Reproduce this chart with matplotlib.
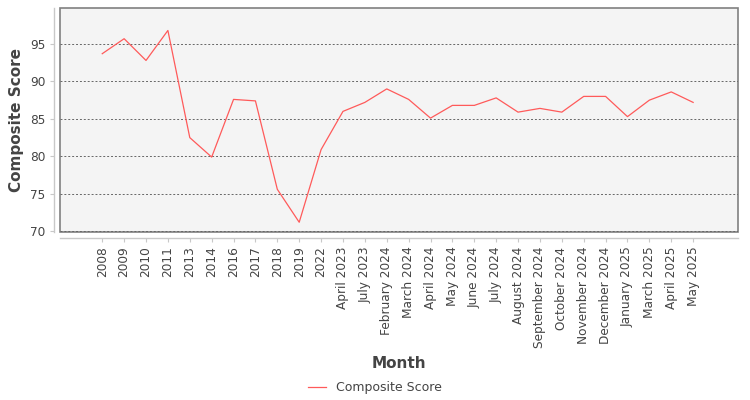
import matplotlib
matplotlib.use("Agg")
import matplotlib.pyplot as plt

# data
months = [
    "2008", "2009", "2010", "2011", "2013", "2014", "2016", "2017", "2018",
    "2019", "2022", "April 2023", "July 2023", "February 2024", "March 2024",
    "April 2024", "May 2024", "June 2024", "July 2024", "August 2024",
    "September 2024", "October 2024", "November 2024", "December 2024",
    "January 2025", "March 2025", "April 2025", "May 2025",
]
composite_score = [
    93.7, 95.7, 92.8, 96.8, 82.5, 79.9, 87.6, 87.4, 75.6,
    71.2, 80.9, 86.0, 87.2, 89.0, 87.6,
    85.1, 86.8, 86.8, 87.8, 85.9,
    86.4, 85.9, 88.0, 88.0,
    85.3, 87.5, 88.6, 87.2,
]
y_ticks = [70, 75, 80, 85, 90, 95]

text_color = "#444444"

fig = plt.figure(figsize=(7.5, 4), dpi=100)
ax = fig.add_axes([0.08, 0.42, 0.904, 0.56])

x = list(range(len(months)))
line, = ax.plot(x, composite_score, color="#ff5a5a", linewidth=0.9,
                label="Composite Score")

# plot background with a gray frame
ax.set_facecolor("#f4f4f4")
ax.patch.set_edgecolor("#808080")
ax.patch.set_linewidth(1.2)

# offset axis lines like the original
for side in ["top", "right"]:
    ax.spines[side].set_visible(False)
for side in ["left", "bottom"]:
    ax.spines[side].set_position(("outward", 4))
    ax.spines[side].set_color("#c8c8c8")
    ax.spines[side].set_linewidth(1.0)

ax.set_xlim(-1.93, len(months) - 1 + 2.05)
ax.set_ylim(69.9, 99.8)
ax.set_yticks(y_ticks)
ax.set_xticks(x)
ax.set_xticklabels(months, rotation=90)

ax.grid(axis="y", color="#666666", linestyle=(0, (2, 2)), linewidth=0.7)
ax.set_axisbelow(True)

ax.tick_params(axis="both", colors="#c8c8c8", labelcolor=text_color,
               labelsize=8.7, length=3, width=0.8)

ax.set_ylabel("Composite Score", fontsize=11, color=text_color,
              fontweight="bold", labelpad=4)
ax.set_xlabel("Month", fontsize=11, color=text_color,
              fontweight="bold", labelpad=6)

fig.legend(handles=[line], loc="center", bbox_to_anchor=(0.5, 0.03),
           frameon=False, fontsize=9, handlelength=1.4,
           labelcolor=text_color)

fig.savefig("out.png", dpi=100)
